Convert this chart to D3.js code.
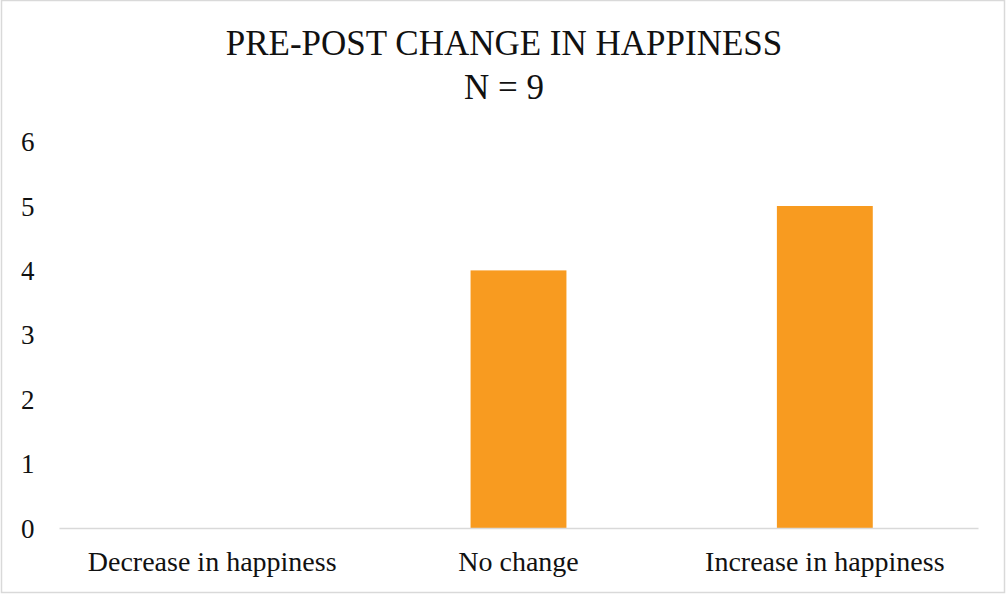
<!DOCTYPE html>
<html><head><meta charset="utf-8">
<script src="https://cdn.jsdelivr.net/npm/d3@7"></script>
<style>body{margin:0;background:#fff}svg{display:block}text{font-family:"Liberation Serif","DejaVu Serif",serif;fill:#111}</style>
</head><body><svg id="c" width="1006" height="594"></svg>
<script>
const categories = ["Decrease in happiness", "No change", "Increase in happiness"];
const values = [0, 4, 5];
const yTicks = [0, 1, 2, 3, 4, 5, 6];
const titleLines = ["PRE-POST CHANGE IN HAPPINESS", "N = 9"];

(function(){
const svg = d3.select("#c");
svg.append("rect").attr("x",1.5).attr("y",0.5).attr("width",1003).attr("height",592)
  .attr("fill","#fff").attr("stroke","#d9d9d9").attr("stroke-width",1.5);

const pl = 59, pr = 978, pt = 141.6, pb = 528;
const x = d3.scaleBand().domain(categories).range([pl, pr]).padding(0);
const y = d3.scaleLinear().domain([0, 6]).range([pb, pt]);

svg.selectAll("text.title").data(titleLines).join("text").attr("class","title")
  .attr("x", 504).attr("y", (d,i)=> 55 + i*44).attr("text-anchor","middle")
  .style("font-size","35px").text(d=>d);

const yAxis = d3.axisLeft(y).tickValues(yTicks).tickSize(0).tickPadding(0).tickFormat(d3.format("d"));
const ya = svg.append("g").attr("transform","translate(34.5,0)").call(yAxis);
ya.select(".domain").remove();
ya.selectAll("text").style("font-size","27px").attr("dy","0.34em").style("fill","#111");

const bw = x.bandwidth()*0.313;
svg.selectAll("rect.bar").data(values).join("rect").attr("class","bar")
  .attr("x",(d,i)=> x(categories[i]) + x.bandwidth()/2 - bw/2)
  .attr("width", bw)
  .attr("y", d=> y(d)).attr("height", d=> y(0)-y(d))
  .attr("fill","#F89B20");

const xAxis = d3.axisBottom(x).tickSize(0).tickPadding(0);
const xa = svg.append("g").attr("transform",`translate(0,${pb})`).call(xAxis);
xa.select(".domain").attr("stroke","#d9d9d9").attr("stroke-width",1.5);
xa.selectAll("text").style("font-size","28px").attr("dy",null).attr("y",43).style("fill","#111");
})();
</script></body></html>
